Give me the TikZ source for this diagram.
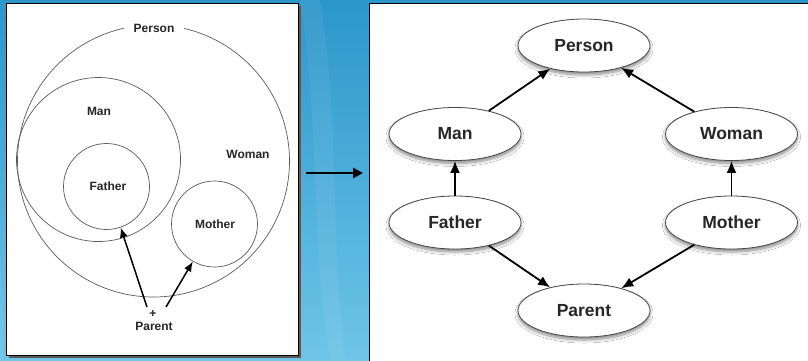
\documentclass[tikz,border=0pt]{standalone}
\usepackage{fontspec}
\setsansfont{Liberation Sans}
\usetikzlibrary{arrows.meta,shapes.geometric,shadows.blur}

\definecolor{bgtop}{RGB}{44,150,203}
\definecolor{bgbot}{RGB}{110,197,232}
\definecolor{setline}{RGB}{90,90,90}
\definecolor{ovalline}{RGB}{70,70,70}

\tikzset{
  setcircle/.style={draw=setline, line width=0.7pt, circle, inner sep=0pt},
  setlabel/.style={font=\sffamily\bfseries\fontsize{12}{14}\selectfont, text=black!85, inner sep=1pt},
  classoval/.style={ellipse, draw=ovalline, line width=0.8pt, fill=white,
    minimum width=132pt, minimum height=53pt, inner sep=0pt,
    font=\sffamily\bfseries\fontsize{17.5}{20}\selectfont, text=black!85,
    blur shadow={shadow xshift=0pt, shadow yshift=-3pt, shadow blur steps=6,
      shadow blur radius=3pt, shadow opacity=45}},
  isa/.style={line width=1.8pt, -{Latex[length=12pt,width=10pt]}},
  member/.style={line width=1.5pt, -{Latex[length=10pt,width=8pt]}},
  transform/.style={line width=2.6pt, -{Triangle[length=10pt,width=10pt]}},
  panel/.style={fill=white, draw=black, line width=0.9pt}
}

\begin{document}
\begin{tikzpicture}[x=1pt,y=-1pt]
  \useasboundingbox (0,0) rectangle (808,360);

  % blue backdrop
  \shade[top color=bgtop, bottom color=bgbot] (0,0) rectangle (808,360);
  \fill[white, opacity=0.06] (300,0) .. controls (320,120) and (310,240) .. (330,360)
    -- (345,360) .. controls (330,240) and (340,120) .. (320,0) -- cycle;
  \fill[white, opacity=0.05] (0,250) .. controls (2,300) and (4,330) .. (3,360) -- (0,360) -- cycle;

  % ---------- set view ----------
  \fill[gray!70!black] (9,6) rectangle (301,358);
  \draw[panel] (6,3) rectangle (298,355);

  \node[setcircle, minimum size=272pt] (personset) at (153.5,161) {};
  \node[setcircle, minimum size=164pt] (manset) at (98.5,159.5) {};
  \node[setcircle, minimum size=86pt] (fatherset) at (106.5,186.5) {};
  \node[setcircle, minimum size=86pt] (motherset) at (214.5,224) {};

  \node[setlabel, fill=white, inner xsep=10pt, inner ysep=2pt] (personlbl) at (154,28) {Person};
  \node[setlabel] (manlbl) at (99,111) {Man};
  \node[setlabel] (womanlbl) at (248,154) {Woman};
  \node[setlabel] (fatherlbl) at (108,186) {Father};
  \node[setlabel] (motherlbl) at (215,224) {Mother};
  \node[setlabel] (plus) at (153,314) {+};
  \node[setlabel] (parentlbl) at (154,326) {Parent};

  \coordinate (toF) at (147,307);
  \coordinate (toM) at (166,307);
  \draw[member] (toF) -- (fatherset.-71);
  \draw[member] (toM) -- (motherset.-120);

  % ---------- arrow between views ----------
  \coordinate (arrfrom) at (306,173);
  \coordinate (arrto) at (363,173);
  \draw[transform] (arrfrom) -- (arrto);

  % ---------- class graph ----------
  \draw[panel] (369,3) rectangle (815,366);

  \node[classoval] (person) at (584,45.5) {Person};
  \node[classoval] (man) at (455,134) {Man};
  \node[classoval] (woman) at (731.5,134) {Woman};
  \node[classoval] (father) at (455,222.5) {Father};
  \node[classoval] (mother) at (731.5,222.5) {Mother};
  \node[classoval] (parent) at (584,310.5) {Parent};

  \draw[isa] (man) -- (person);
  \draw[isa] (woman) -- (person);
  \draw[isa] (father) -- (man);
  \draw[isa] (mother) -- (woman);
  \draw[isa] (father) -- (parent);
  \draw[isa] (mother) -- (parent);
\end{tikzpicture}
\end{document}
